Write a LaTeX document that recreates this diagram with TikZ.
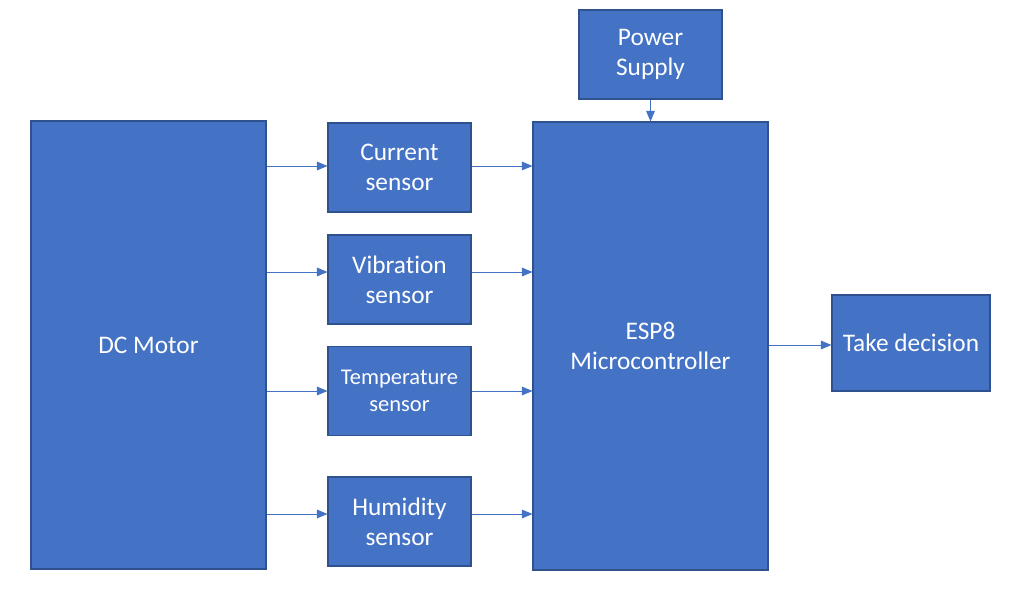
\documentclass[tikz,border=0pt]{standalone}
\usepackage{fontspec}
\setmainfont[Ligatures=NoCommon]{Carlito}
\usetikzlibrary{arrows,shapes}
\definecolor{boxblue}{HTML}{4472C4}
\definecolor{boxedge}{HTML}{2F528F}
\begin{document}
\begin{tikzpicture}[x=0.025cm,y=-0.025cm]
                \tikzstyle{block}=[draw=boxedge,line width=0.8pt,fill=boxblue,text=white,inner sep=0pt,align=center,font=\fontsize{18}{21.5}\selectfont]
                \tikzstyle{sensor}=[block,minimum width=143*0.025cm,minimum height=89*0.025cm]
                \tikzstyle{link}=[draw=boxblue,line width=0.7pt,-triangle 45]
                
                \useasboundingbox (0,0) rectangle (1014,598);
                
                \node[block,minimum width=235*0.025cm,minimum height=448*0.025cm] (motor) at (148.5,345) {DC Motor};
                \node[block,minimum width=235*0.025cm,minimum height=448*0.025cm] (esp) at (650.5,346) {ESP8\\Microcontroller};
                \node[sensor] (power) at (650.5,54.5) {Power\\Supply};
                \node[sensor] (current) at (399.5,167.5) {Current\\sensor};
                \node[sensor] (vibration) at (399.5,279.5) {Vibration\\sensor};
                \node[sensor,font=\fontsize{16}{19.5}\selectfont] (temp) at (399.5,391) {Temperature\\sensor};
                \node[sensor] (humidity) at (399.5,521.5) {Humidity\\sensor};
                \node[block,minimum width=158*0.025cm,minimum height=96*0.025cm] (decision) at (911,343) {Take decision};
                
                \coordinate (c1) at (0,166);
                \coordinate (c2) at (0,272);
                \coordinate (c3) at (0,391);
                \coordinate (c4) at (0,514);
                \coordinate (c5) at (0,345);
                
                \draw[link] (motor.east |- c1) -- (current.west |- c1);
                \draw[link] (motor.east |- c2) -- (vibration.west |- c2);
                \draw[link] (motor.east |- c3) -- (temp.west |- c3);
                \draw[link] (motor.east |- c4) -- (humidity.west |- c4);
                
                \draw[link] (current.east |- c1) -- (esp.west |- c1);
                \draw[link] (vibration.east |- c2) -- (esp.west |- c2);
                \draw[link] (temp.east |- c3) -- (esp.west |- c3);
                \draw[link] (humidity.east |- c4) -- (esp.west |- c4);
                
                \draw[link] (power.south) -- (esp.north);
                \draw[link] (esp.east |- c5) -- (decision.west |- c5);
                
\end{tikzpicture}
\end{document}
